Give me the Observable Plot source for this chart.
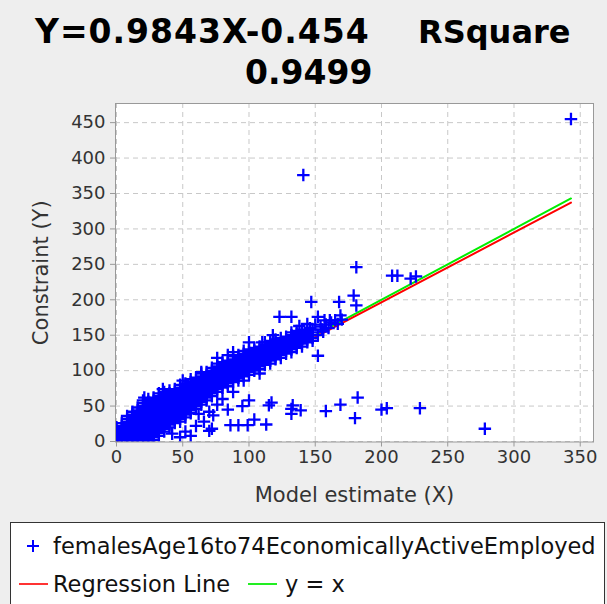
<!DOCTYPE html>
<html><head><meta charset="utf-8">
<script src="https://cdn.jsdelivr.net/npm/d3@7"></script>
<script src="https://cdn.jsdelivr.net/npm/@observablehq/plot@0.6"></script>
<style>
html,body{margin:0;padding:0;background:#eeeeee;width:607px;height:604px;overflow:hidden;font-family:"DejaVu Sans",sans-serif;}
.title{position:absolute;font-weight:bold;font-size:33px;white-space:pre;color:#000;line-height:1}
#t1a{top:15px;left:35px;letter-spacing:1px} #t1b{top:15px;left:418px;font-size:32px;top:16px} #t2{top:56px;left:245px}
#chart{position:absolute;left:0;top:95px}
#legend{position:absolute;left:10px;top:522px;width:595px;height:100px;background:#fff;border:1px solid #333;box-sizing:border-box;font-size:22.5px;color:#111}
.row{position:absolute;left:0;height:30px;line-height:30px;white-space:pre}
.row span{position:absolute;top:0}
.row svg{position:absolute;top:0}
</style></head>
<body>
<div class="title" id="t1a">Y=0.9843X-0.454</div>
<div class="title" id="t1b">RSquare</div>
<div class="title" id="t2">0.9499</div>
<div id="chart"></div>
<div id="legend"></div>
<script>
const ticksX = [0, 50, 100, 150, 200, 250, 300, 350];
const ticksY = [0, 50, 100, 150, 200, 250, 300, 350, 400, 450];
const slope = 0.9843, intercept = -0.454;
const lineX = [0, 343];
const seriesName = "femalesAge16to74EconomicallyActiveEmployed";
const legendNames = ["Regression Line", "y = x"];

// dense band of points (model estimate column -> constraint values)
const bandX = [0,4,8,12,16,20,24,28,32,36,40,44,48,52,56,60,64,68,72,76,80,84,88,92,96,100,104,108,112,116,120,124,128,132,136,140,144,148];
const bandY = [
  [0,4,8,12,16,20],
  [2,6,10,14,18,22,26],
  [0,4,8,12,16,20,24,28,32,36],
  [2,6,10,14,18,22,26,30,34,38,42],
  [0,4,8,12,16,20,24,28,32,36,40,44,48],
  [2,6,10,14,18,22,26,30,34,38,42,46,50,54,58],
  [0,4,8,12,16,20,24,28,32,36,40,44,48,52,56,60],
  [2,6,10,14,18,22,26,30,34,38,42,46,50,54,58,62],
  [8,12,16,20,24,28,32,36,40,44,48,52,56,60,64,68],
  [14,18,22,26,30,34,38,42,46,50,54,58,62,66,70],
  [20,24,28,32,36,40,44,48,52,56,60,64,68,72],
  [26,30,34,38,42,46,50,54,58,62,66,70,74],
  [28,32,36,40,44,48,52,56,60,64,68,72,76,80],
  [34,38,42,46,50,54,58,62,66,70,74,78,82],
  [40,44,48,52,56,60,64,68,72,76,80,84,88],
  [46,50,54,58,62,66,70,74,78,82,86,90],
  [52,56,60,64,68,72,76,80,84,88,92,96],
  [58,62,66,70,74,78,82,86,90,94,98],
  [64,68,72,76,80,84,88,92,96,100,104],
  [70,74,78,82,86,90,94,98,102,106,110],
  [76,80,84,88,92,96,100,104,108,112],
  [78,82,86,90,94,98,102,106,110,114],
  [84,88,92,96,100,104,108,112,116,120],
  [86,90,94,98,102,106,110,114,118,122],
  [92,96,100,104,108,112,116,120,124,128],
  [94,98,102,106,110,114,118,122,126,130],
  [100,104,108,112,116,120,124,128,132],
  [102,106,110,114,118,122,126,130,134],
  [108,112,116,120,124,128,132,136,140],
  [110,114,118,122,126,130,134,138,142],
  [116,120,124,128,132,136,140,144],
  [118,122,126,130,134,138,142,146],
  [124,128,132,136,140,144,148],
  [126,130,134,138,142,146,150,154],
  [132,136,140,144,148,152,156],
  [134,138,142,146,150,154,158],
  [140,144,148,152,156],
  [142,146,150,154,158]
];
// scattered points
const outX = [343,141,181,208,212,222,226,147,179,181,168,123,132,152,169,152,117,132,132,113,104,99,92,86,72,73,56,42,48,52,169,182,180,158,200,204,229,278,139,133,115,70,70,62,66,80,88,96,108,76,84,60,95,100,
  21,35,50,64,76,84,88,100,110,118,138,144,
  152,156,160,154,158,162,157,161,165,167,150,155,170,146];
const outY = [455,376,246,234,234,230,233,197,206,192,197,176,176,176,178,121,55,46,39,24,31,23,23,23,18,37,8,11,6,14,52,62,33,43,45,47,47,18,44,51,51,15,42,39,28,60,70,86,96,52,45,22,50,58,
  62,74,86,98,118,122,126,140,140,150,163,166,
  150,155,160,162,165,168,171,171,171,166,165,158,172,160];

const pts = [];
bandX.forEach((x, i) => bandY[i].forEach(y => pts.push({x, y})));
outX.forEach((x, i) => pts.push({x, y: outY[i]}));
const lineData = lineX.map(x => ({x, yx: x, reg: slope * x + intercept}));

const gridStyle = {stroke: "#c8c8c8", strokeOpacity: 1, strokeDasharray: "5,4"};
const chart = Plot.plot({
  width: 607, height: 420,
  marginLeft: 115, marginRight: 14, marginTop: 8, marginBottom: 73.5,
  style: {background: "transparent", fontFamily: "DejaVu Sans", fontSize: "18px", color: "#333", overflow: "visible"},
  x: {domain: [-0.75, 360]},
  y: {domain: [-0.7, 477]},
  marks: [
    Plot.frame({fill: "white", stroke: null}),
    Plot.gridX(ticksX, gridStyle),
    Plot.gridY(ticksY, gridStyle),
    Plot.line(lineData, {x: "x", y: "yx", stroke: "#00ee00", strokeWidth: 2, clip: true}),
    Plot.line(lineData, {x: "x", y: "reg", stroke: "#ff0000", strokeWidth: 2, clip: true}),
    Plot.dot(pts, {x: "x", y: "y", symbol: "plus", r: 4.1, stroke: "#0000ff", strokeWidth: 2.3, clip: true}),
    Plot.frame({stroke: "#999"}),
    Plot.axisX(ticksX, {tickSize: 5, tickPadding: 3, stroke: "#999", fill: "#333", fontSize: 18, label: "Model estimate (X)", labelAnchor: "center", labelOffset: 60, labelArrow: "none"}),
    Plot.axisY(ticksY, {tickSize: 5, tickPadding: 5, stroke: "#999", fill: "#333", fontSize: 18, label: "Constraint (Y)", labelAnchor: "center", labelOffset: 82, labelArrow: "none"})
  ]
});
document.getElementById("chart").appendChild(chart);
chart.querySelectorAll("[aria-label='x-axis label'] text, [aria-label='y-axis label'] text").forEach(t => t.setAttribute("font-size", 21));

// legend
const lg = document.getElementById("legend");
lg.innerHTML = `
<div class="row" style="top:8px;width:600px">
  <svg width="20" height="30" style="left:12px"><path d="M4,15H16M10,9V21" stroke="#0000ff" stroke-width="2" fill="none"/></svg>
  <span style="left:42px">${seriesName}</span>
</div>
<div class="row" style="top:46px;width:600px">
  <svg width="32" height="30" style="left:7px"><line x1="1" y1="15" x2="30" y2="15" stroke="#ff3333" stroke-width="2"/></svg>
  <span style="left:42px">${legendNames[0]}</span>
  <svg width="32" height="30" style="left:236px"><line x1="1" y1="15" x2="30" y2="15" stroke="#22ee22" stroke-width="2"/></svg>
  <span style="left:274px">${legendNames[1]}</span>
</div>`;
</script>
</body></html>
